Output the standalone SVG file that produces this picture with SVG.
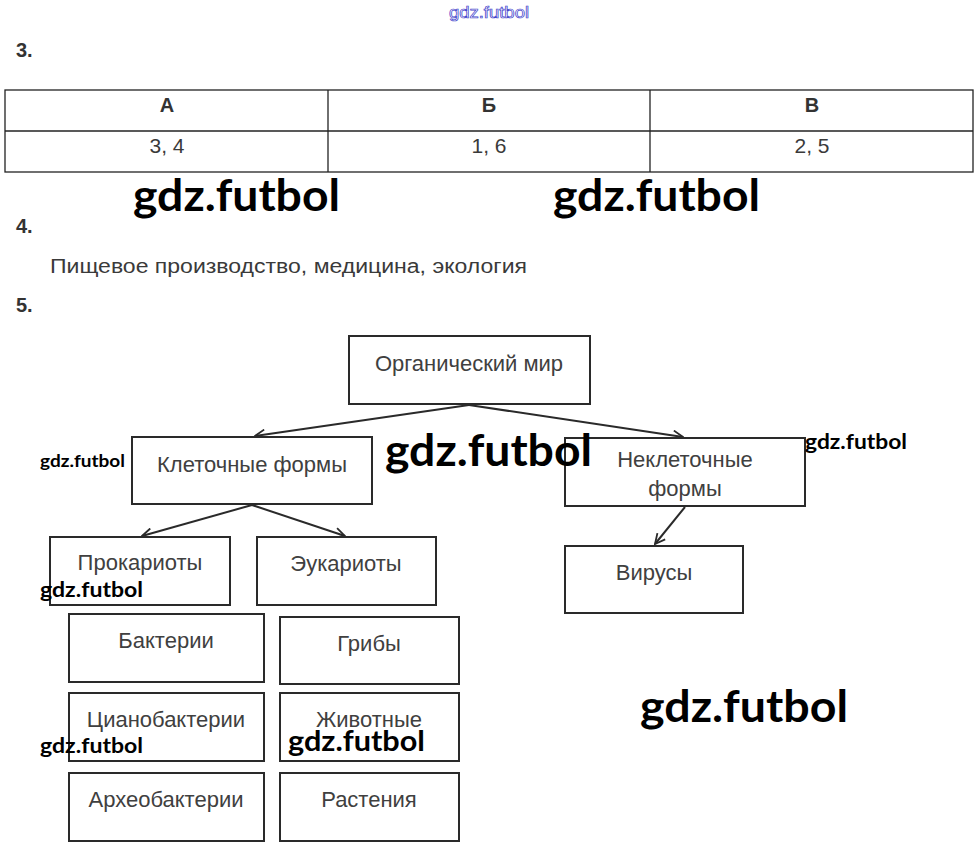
<svg xmlns="http://www.w3.org/2000/svg" width="977" height="857" viewBox="0 0 977 857">
<defs>
<style>
.t{font-family:"Liberation Sans",Arial,sans-serif;fill:#3a3a3a}
.b{font-family:"Liberation Sans",Arial,sans-serif;font-weight:bold;fill:#333}
.box{fill:#fff;stroke:#2a2a2a;stroke-width:2}
.n{font-family:"Liberation Sans",Arial,sans-serif;font-size:22px;fill:#404040;text-anchor:middle}
.wm{font-family:Lato,"Open Sans",sans-serif;font-weight:bold;fill:#000}
.cell{stroke:#222;stroke-width:1.3;fill:none}
.c{stroke:#2a2a2a;stroke-width:2;fill:none;marker-end:url(#ah)}
</style>
<marker id="ah" viewBox="0 0 12 12" refX="11" refY="6" markerWidth="12" markerHeight="12" markerUnits="userSpaceOnUse" orient="auto">
<path d="M1,1 L11,6 L1,11" fill="none" stroke="#2a2a2a" stroke-width="1.8"/>
</marker>
</defs>
<rect width="977" height="857" fill="#fff"/>
<text x="489" y="18" font-family="Liberation Sans,Arial,sans-serif" font-size="16" fill="#fff" stroke="#4444cc" stroke-width="0.7" text-anchor="middle" textLength="80" lengthAdjust="spacingAndGlyphs">gdz.futbol</text>
<g id="task3">
<text class="b" x="16" y="57" font-size="20">3.</text>
<rect class="cell" x="5" y="90" width="968" height="82"/>
<line class="cell" x1="5" y1="131" x2="973" y2="131"/>
<line class="cell" x1="328" y1="90" x2="328" y2="172"/>
<line class="cell" x1="650" y1="90" x2="650" y2="172"/>
<text class="b" x="167" y="112" font-size="20" text-anchor="middle">А</text>
<text class="b" x="489" y="112" font-size="20" text-anchor="middle">Б</text>
<text class="b" x="812" y="112" font-size="20" text-anchor="middle">В</text>
<text class="t" x="167" y="153" font-size="21" text-anchor="middle">3, 4</text>
<text class="t" x="489" y="153" font-size="21" text-anchor="middle">1, 6</text>
<text class="t" x="812" y="153" font-size="21" text-anchor="middle">2, 5</text>
</g>
<g id="task4">
<text class="b" x="16" y="233" font-size="20">4.</text>
<text class="t" x="50" y="273" font-size="20" textLength="477" lengthAdjust="spacingAndGlyphs">Пищевое производство, медицина, экология</text>
<text class="b" x="16" y="312" font-size="20">5.</text>
</g>
<g id="connectors">
<line class="c" x1="469" y1="405" x2="255" y2="436"/>
<line class="c" x1="469" y1="405" x2="683" y2="437"/>
<line class="c" x1="252" y1="505" x2="142" y2="536"/>
<line class="c" x1="252" y1="505" x2="345" y2="536"/>
<line class="c" x1="685" y1="507" x2="655" y2="544"/>
</g>
<g id="organic"><rect class="box" x="349" y="336" width="241" height="68"/><text class="n" x="469" y="371">Органический мир</text></g>
<g id="cellular"><rect class="box" x="132" y="437" width="240" height="67"/><text class="n" x="252" y="472">Клеточные формы</text></g>
<g id="noncellular"><rect class="box" x="565" y="438" width="240" height="68"/><text class="n" x="685" y="467">Неклеточные</text><text class="n" x="685" y="496">формы</text></g>
<g id="prokaryotes"><rect class="box" x="50" y="537" width="180" height="68"/><text class="n" x="140" y="570">Прокариоты</text></g>
<g id="eukaryotes"><rect class="box" x="257" y="537" width="179" height="68"/><text class="n" x="346" y="571">Эукариоты</text></g>
<g id="viruses"><rect class="box" x="565" y="546" width="178" height="67"/><text class="n" x="654" y="580">Вирусы</text></g>
<g id="bacteria"><rect class="box" x="69" y="614" width="195" height="68"/><text class="n" x="166" y="648">Бактерии</text></g>
<g id="fungi"><rect class="box" x="280" y="617" width="179" height="67"/><text class="n" x="369" y="651">Грибы</text></g>
<g id="cyano"><rect class="box" x="69" y="693" width="195" height="68"/><text class="n" x="166" y="727">Цианобактерии</text></g>
<g id="animals"><rect class="box" x="280" y="693" width="179" height="68"/><text class="n" x="369" y="727">Животные</text></g>
<g id="archaea"><rect class="box" x="69" y="773" width="195" height="68"/><text class="n" x="166" y="807">Археобактерии</text></g>
<g id="plants"><rect class="box" x="280" y="773" width="179" height="68"/><text class="n" x="369" y="807">Растения</text></g>
<g id="watermarks">
<text class="wm" x="133" y="211" font-size="44" textLength="207" lengthAdjust="spacingAndGlyphs">gdz.futbol</text>
<text class="wm" x="553" y="211" font-size="44" textLength="207" lengthAdjust="spacingAndGlyphs">gdz.futbol</text>
<text class="wm" x="385" y="466" font-size="44" textLength="207" lengthAdjust="spacingAndGlyphs">gdz.futbol</text>
<text class="wm" x="640" y="722" font-size="44" textLength="208" lengthAdjust="spacingAndGlyphs">gdz.futbol</text>
<text class="wm" x="40" y="467" font-size="17" textLength="85" lengthAdjust="spacingAndGlyphs">gdz.futbol</text>
<text class="wm" x="805" y="449" font-size="20" textLength="102" lengthAdjust="spacingAndGlyphs">gdz.futbol</text>
<text class="wm" x="40" y="597" font-size="21" textLength="103" lengthAdjust="spacingAndGlyphs">gdz.futbol</text>
<text class="wm" x="40" y="753" font-size="21" textLength="103" lengthAdjust="spacingAndGlyphs">gdz.futbol</text>
<text class="wm" x="288" y="751" font-size="28" textLength="137" lengthAdjust="spacingAndGlyphs">gdz.futbol</text>
</g>
</svg>
